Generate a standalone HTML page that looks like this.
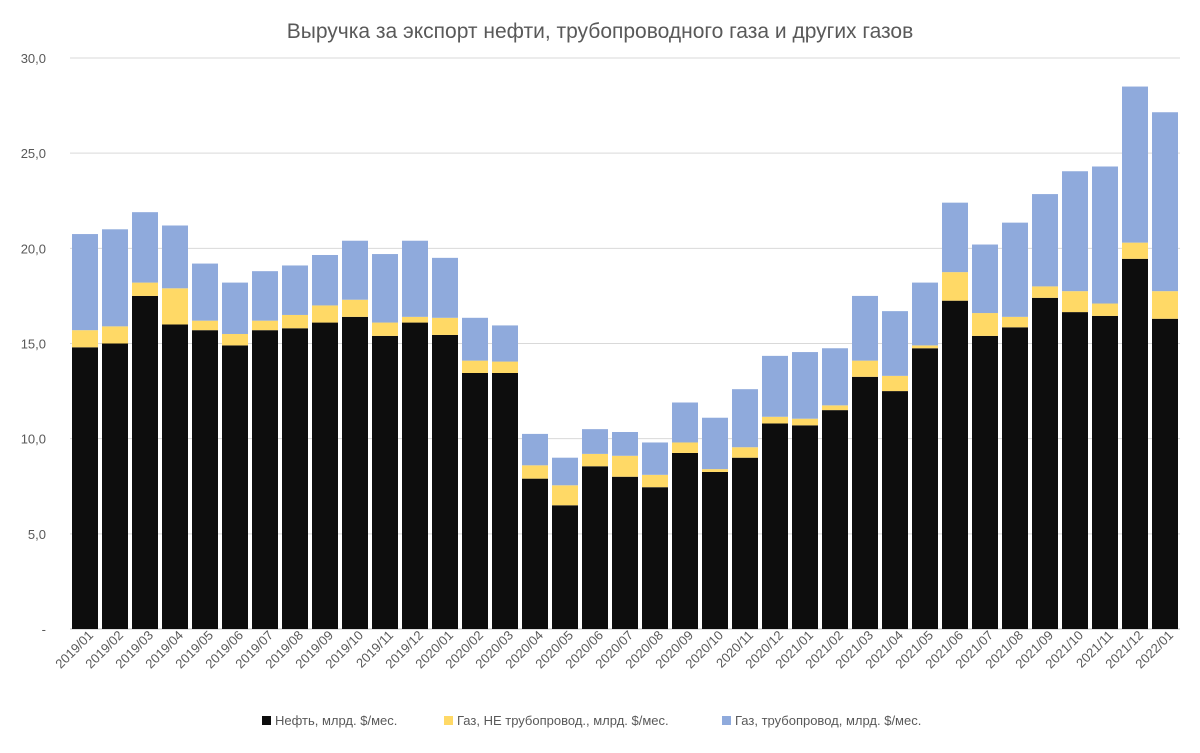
<!DOCTYPE html>
<html><head><meta charset="utf-8"><style>
body{margin:0;background:#fff;font-family:"Liberation Sans",sans-serif;}
svg text{font-family:"Liberation Sans",sans-serif;fill:#595959;}
</style></head><body>
<svg id="c" width="1200" height="748" xmlns="http://www.w3.org/2000/svg">
<rect width="1200" height="748" fill="#fff"/>
<text x="600" y="38" text-anchor="middle" font-size="21">Выручка за экспорт нефти, трубопроводного газа и других газов</text>
<g id="grid"></g><g id="bars"></g><g id="xl"></g><g id="yl"></g>
<g font-size="13">
<rect x="262" y="716" width="9" height="9" fill="#0d0d0d"/>
<text x="275" y="725">Нефть, млрд. $/мес.</text>
<rect x="444" y="716" width="9" height="9" fill="#ffd966"/>
<text x="457" y="725">Газ, НЕ трубопровод., млрд. $/мес.</text>
<rect x="722" y="716" width="9" height="9" fill="#8faadc"/>
<text x="735" y="725">Газ, трубопровод, млрд. $/мес.</text>
</g>
</svg>
<script>
const categories=["2019/01","2019/02","2019/03","2019/04","2019/05","2019/06","2019/07","2019/08","2019/09","2019/10","2019/11","2019/12","2020/01","2020/02","2020/03","2020/04","2020/05","2020/06","2020/07","2020/08","2020/09","2020/10","2020/11","2020/12","2021/01","2021/02","2021/03","2021/04","2021/05","2021/06","2021/07","2021/08","2021/09","2021/10","2021/11","2021/12","2022/01"];
const oil=[14.8,15.0,17.5,16.0,15.7,14.9,15.7,15.8,16.1,16.4,15.4,16.1,15.45,13.45,13.45,7.9,6.5,8.55,8.0,7.45,9.25,8.25,9.0,10.8,10.7,11.5,13.25,12.5,14.75,17.25,15.4,15.85,17.4,16.65,16.45,19.45,16.3];
const gasNonPipe=[0.9,0.9,0.7,1.9,0.5,0.6,0.5,0.7,0.9,0.9,0.7,0.3,0.9,0.65,0.6,0.7,1.05,0.65,1.1,0.65,0.55,0.15,0.55,0.35,0.35,0.25,0.85,0.8,0.15,1.5,1.2,0.55,0.6,1.1,0.65,0.85,1.45];
const gasPipe=[5.05,5.1,3.7,3.3,3.0,2.7,2.6,2.6,2.65,3.1,3.6,4.0,3.15,2.25,1.9,1.65,1.45,1.3,1.25,1.7,2.1,2.7,3.05,3.2,3.5,3.0,3.4,3.4,3.3,3.65,3.6,4.95,4.85,6.3,7.2,8.2,9.4];
const yTicks=[0,5,10,15,20,25,30];
const yTickLabels=["-","5,0","10,0","15,0","20,0","25,0","30,0"];
const NS="http://www.w3.org/2000/svg";
const L=70,R=1180,Y0=629,Y30=58;
const y=v=>Y0-(Y0-Y30)*v/30;
const step=(R-L)/categories.length;
const x=i=>L+step*(i+0.5);
const bw=26;
function mk(t,a,p){const e=document.createElementNS(NS,t);for(const k in a)e.setAttribute(k,a[k]);p.appendChild(e);return e;}
const grid=document.getElementById('grid'),yl=document.getElementById('yl'),bars=document.getElementById('bars'),xl=document.getElementById('xl');
yTicks.forEach((t,i)=>{
 const g=mk('line',{x1:L,x2:R,y1:y(t),y2:y(t),stroke:i==0?'#bfbfbf':'#d9d9d9','stroke-width':1},grid);
 
 
 const tx=mk('text',{x:46,y:y(t)+5,'text-anchor':'end','font-size':13},yl);
 tx.textContent=yTickLabels[i];
 
 
});
categories.forEach((c,i)=>{
 const segs=[[0,oil[i],'#0d0d0d','oil'],[oil[i],oil[i]+gasNonPipe[i],'#ffd966','gas-nonpipe'],[oil[i]+gasNonPipe[i],oil[i]+gasNonPipe[i]+gasPipe[i],'#8faadc','gas-pipe']];
 segs.forEach(s=>{
  const r=mk('rect',{x:x(i)-bw/2,y:y(s[1]),width:bw,height:y(s[0])-y(s[1]),fill:s[2]},bars);
  
  
 });
 const ax=x(i)+9,ay=636;
 const t=mk('text',{x:ax,y:ay,'text-anchor':'end','font-size':13,transform:`rotate(-45 ${ax} ${ay})`},xl);
 t.textContent=c;
 
 
});
</script>
</body></html>
